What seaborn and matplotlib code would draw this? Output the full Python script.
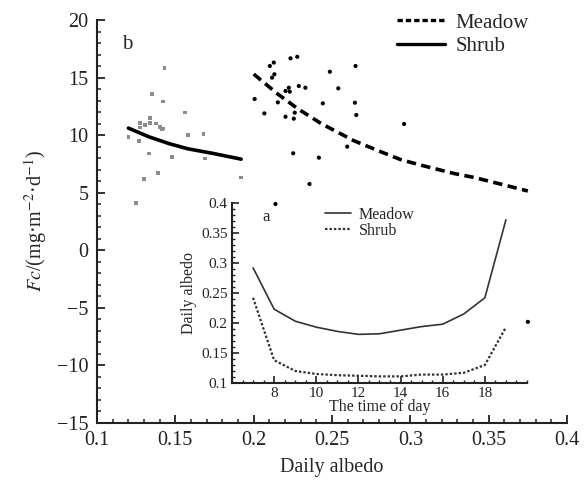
import matplotlib
matplotlib.use("Agg")
import matplotlib.pyplot as plt
import seaborn as sns
import pandas as pd
from matplotlib.ticker import MultipleLocator
from matplotlib.lines import Line2D

# ---------------- data ----------------
shrub_x = [0.143, 0.135, 0.142, 0.156, 0.134, 0.1275, 0.1307, 0.134, 0.1376, 0.140,
           0.1424, 0.1414, 0.1275, 0.120, 0.127, 0.158, 0.168, 0.133, 0.148, 0.139,
           0.130, 0.125, 0.169, 0.192]
shrub_y = [15.8, 13.57, 12.9, 11.97, 11.5, 11.07, 10.87, 11.07, 11.0, 10.67,
           10.58, 10.5, 10.64, 9.8, 9.5, 10.0, 10.1, 8.4, 8.1, 6.72,
           6.17, 4.1, 7.97, 6.3]
meadow_x = [0.2235, 0.2278, 0.2103, 0.2128, 0.2132, 0.2117, 0.2486, 0.2006, 0.2224, 0.2203,
            0.223, 0.2288, 0.233, 0.2154, 0.2441, 0.2068, 0.2203, 0.2256, 0.2262, 0.2252,
            0.2416, 0.2356, 0.2139, 0.254, 0.265, 0.2646, 0.2655, 0.296, 0.2597, 0.375]
meadow_y = [16.67, 16.8, 16.0, 16.3, 15.28, 14.99, 15.5, 13.13, 14.11, 13.83,
            13.77, 14.26, 14.11, 12.84, 12.75, 11.88, 11.59, 11.42, 11.94, 8.41,
            8.03, 5.74, 4.0, 14.06, 16.0, 12.81, 11.74, 10.96, 8.99, -6.25]

shrub_fit_x = [0.120, 0.133, 0.146, 0.158, 0.174, 0.192]
shrub_fit_y = [10.6, 9.85, 9.25, 8.8, 8.4, 7.9]
meadow_fit_x = [0.200, 0.215, 0.228, 0.243, 0.264, 0.281, 0.294, 0.309, 0.328, 0.341, 0.360, 0.375]
meadow_fit_y = [15.3, 13.6, 12.3, 11.0, 9.5, 8.55, 7.85, 7.3, 6.65, 6.3, 5.65, 5.13]

hours = [7, 8, 9, 10, 11, 12, 13, 14, 15, 16, 17, 18, 19]
meadow_albedo = [0.292, 0.223, 0.203, 0.193, 0.186, 0.181, 0.182, 0.188, 0.194, 0.198, 0.215, 0.242, 0.372]
shrub_albedo = [0.242, 0.138, 0.120, 0.115, 0.113, 0.112, 0.111, 0.111, 0.114, 0.114, 0.117, 0.130, 0.193]

# ---------------- style ----------------
sns.set_theme(style="ticks")
plt.rcParams['font.family'] = ['Liberation Serif', 'DejaVu Serif']
plt.rcParams['mathtext.fontset'] = 'stix'
plt.rcParams['axes.unicode_minus'] = True

fig = plt.figure(figsize=(5.87, 4.88), dpi=100)
ax = fig.add_axes([0.1653, 0.1342, 0.8007, 0.8248])

sns.scatterplot(x=shrub_x, y=shrub_y, ax=ax, marker='s', s=7, color='#8c8c8c',
                edgecolor='none', legend=False, zorder=3)
sns.scatterplot(x=meadow_x, y=meadow_y, ax=ax, marker='o', s=9, color='black',
                edgecolor='none', legend=False, zorder=3)
sns.lineplot(x=meadow_fit_x, y=meadow_fit_y, ax=ax, color='black', lw=2.6,
             dashes=False, zorder=4)
ax.lines[-1].set_dashes((2.6, 1.5))
sns.lineplot(x=shrub_fit_x, y=shrub_fit_y, ax=ax, color='black', lw=2.6, zorder=4)

ax.set_xlim(0.1, 0.4)
ax.set_ylim(-15, 20)
ax.xaxis.set_major_locator(MultipleLocator(0.05))
ax.xaxis.set_minor_locator(MultipleLocator(0.01))
ax.yaxis.set_major_locator(MultipleLocator(5))
ax.yaxis.set_minor_locator(MultipleLocator(1))
ax.set_xticks([0.1, 0.15, 0.2, 0.25, 0.3, 0.35, 0.4])
ax.set_xticklabels(['0.1', '0.15', '0.2', '0.25', '0.3', '0.35', '0.4'])
ax.tick_params(which='major', direction='in', length=6, width=1.3, labelsize=14.5,
               colors='#222222', pad=6)
ax.tick_params(which='minor', direction='in', length=3, width=1.1, colors='#222222')
for s in ['top', 'right']:
    ax.spines[s].set_visible(False)
for s in ['left', 'bottom']:
    ax.spines[s].set_linewidth(1.5)
    ax.spines[s].set_color('#222222')
ax.set_xlabel('Daily albedo', fontsize=14.5, labelpad=6)
ax.set_ylabel(r'$Fc$/(mg·m$^{-2}$·d$^{-1}$)', fontsize=14.5, labelpad=6)
ax.text(0.065, 0.94, 'b', transform=ax.transAxes, fontsize=15, ha='center', va='center')

h1 = Line2D([], [], color='black', lw=2.4, dashes=(1.6, 0.9))
h2 = Line2D([], [], color='black', lw=2.4)
ax.legend([h1, h2], ['Meadow', 'Shrub'], loc='upper left',
          bbox_to_anchor=(397 / 587, 1 - 13 / 488), bbox_transform=fig.transFigure,
          frameon=False, fontsize=15, handlelength=2.3, handletextpad=0.5,
          labelspacing=0.2, borderpad=0, borderaxespad=0)

# ---------------- inset ----------------
ins = fig.add_axes([0.3952, 0.2152, 0.5026, 0.3689])
ins.patch.set_alpha(0)
df = pd.DataFrame({'hour': hours, 'Meadow': meadow_albedo, 'Shrub': shrub_albedo})
sns.lineplot(data=df, x='hour', y='Meadow', ax=ins, color='#333333', lw=1.2)
sns.lineplot(data=df, x='hour', y='Shrub', ax=ins, color='#333333', lw=1.6)
ins.lines[-1].set_linestyle((0, (1.1, 0.9)))
ins.set_xlim(6, 20)
ins.set_ylim(0.1, 0.4)
ins.set_xticks([8, 10, 12, 14, 16, 18])
ins.xaxis.set_minor_locator(MultipleLocator(0.5))
ins.set_yticks([0.1, 0.15, 0.2, 0.25, 0.3, 0.35, 0.4])
ins.set_yticklabels(['0.1', '0.15', '0.2', '0.25', '0.3', '0.35', '0.4'])
ins.yaxis.set_minor_locator(MultipleLocator(0.01))
ins.tick_params(which='major', direction='in', length=5, width=1.2, labelsize=11,
                colors='#222222', pad=3)
ins.tick_params(which='minor', direction='in', length=2.5, width=1.0, colors='#222222')
for s in ['top', 'right']:
    ins.spines[s].set_visible(False)
for s in ['left', 'bottom']:
    ins.spines[s].set_linewidth(1.5)
    ins.spines[s].set_color('#222222')
ins.set_xlabel('The time of day', fontsize=11.5, labelpad=-1)
ins.set_ylabel('Daily albedo', fontsize=11.5, labelpad=3)
ins.text(0.115, 0.92, 'a', transform=ins.transAxes, fontsize=12, ha='center', va='center')

i1 = Line2D([], [], color='#333333', lw=1.2)
i2 = Line2D([], [], color='#333333', lw=1.6, linestyle=(0, (1.1, 0.9)))
ins.legend([i1, i2], ['Meadow', 'Shrub'], loc='upper left',
           bbox_to_anchor=(325 / 587, 1 - 207 / 488), bbox_transform=fig.transFigure,
           frameon=False, fontsize=11.5, handlelength=1.6, handletextpad=0.5,
           labelspacing=0.0, borderpad=0, borderaxespad=0)

fig.savefig('out.png', dpi=100)
